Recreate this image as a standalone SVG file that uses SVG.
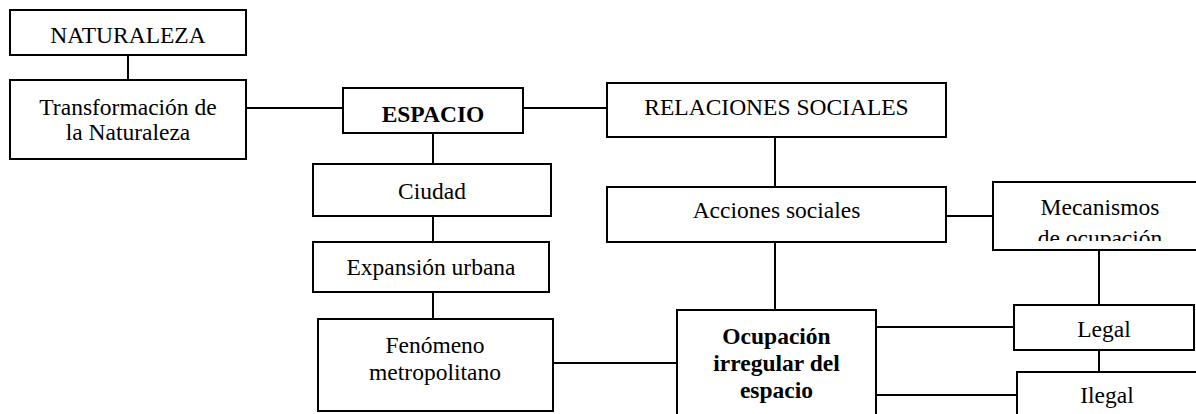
<svg xmlns="http://www.w3.org/2000/svg" width="1196" height="414" viewBox="0 0 1196 414">
<style>
.box{fill:#fff;stroke:#000;stroke-width:2}
.t{font-family:"Liberation Serif","Times New Roman",serif;font-size:23.5px;fill:#000;text-anchor:middle}
.b{font-weight:bold}
.c{stroke:#000;stroke-width:2;fill:none}
</style>
<defs>
<clipPath id="mecClip"><rect x="990" y="180" width="220" height="61"/></clipPath>
</defs>
<rect width="1196" height="414" fill="#fff"/>
<g id="connectors">
<line class="c" x1="128" y1="55" x2="128" y2="80"/>
<line class="c" x1="246" y1="108" x2="343" y2="108"/>
<line class="c" x1="523" y1="108" x2="607" y2="108"/>
<line class="c" x1="433" y1="133" x2="433" y2="164"/>
<line class="c" x1="433" y1="216" x2="433" y2="242"/>
<line class="c" x1="433" y1="292" x2="433" y2="319"/>
<line class="c" x1="775" y1="137" x2="775" y2="187"/>
<line class="c" x1="946" y1="216" x2="993" y2="216"/>
<line class="c" x1="775" y1="242" x2="775" y2="310"/>
<line class="c" x1="553" y1="363" x2="677" y2="363"/>
<line class="c" x1="876" y1="327" x2="1014" y2="327"/>
<line class="c" x1="876" y1="395" x2="1017" y2="395"/>
<line class="c" x1="1099" y1="250" x2="1099" y2="305"/>
<line class="c" x1="1099" y1="350" x2="1099" y2="372"/>
</g>
<g id="naturaleza">
<rect class="box" x="10" y="10" width="236" height="45"/>
<text class="t" x="128" y="43">NATURALEZA</text>
</g>
<g id="transformacion">
<rect class="box" x="10" y="80" width="236" height="79"/>
<text class="t" x="128" y="115">Transformación de</text>
<text class="t" x="128" y="140">la Naturaleza</text>
</g>
<g id="espacio">
<rect class="box" x="343" y="88" width="180" height="45"/>
<text class="t b" x="433" y="122">ESPACIO</text>
</g>
<g id="relaciones">
<rect class="box" x="607" y="83" width="339" height="54"/>
<text class="t" x="776.5" y="115">RELACIONES SOCIALES</text>
</g>
<g id="ciudad">
<rect class="box" x="313" y="164" width="238" height="52"/>
<text class="t" x="432" y="199">Ciudad</text>
</g>
<g id="acciones">
<rect class="box" x="607" y="187" width="339" height="55"/>
<text class="t" x="776.5" y="218">Acciones sociales</text>
</g>
<g id="mecanismos">
<rect class="box" x="993" y="182" width="220" height="68"/>
<text class="t" x="1100" y="215">Mecanismos</text>
<text class="t" x="1100" y="246" clip-path="url(#mecClip)">de ocupación</text>
</g>
<g id="expansion">
<rect class="box" x="313" y="242" width="236" height="50"/>
<text class="t" x="431" y="275">Expansión urbana</text>
</g>
<g id="fenomeno">
<rect class="box" x="318" y="319" width="235" height="92"/>
<text class="t" x="435" y="353">Fenómeno</text>
<text class="t" x="435" y="380">metropolitano</text>
</g>
<g id="ocupacion">
<rect class="box" x="677" y="310" width="199" height="120"/>
<text class="t b" x="776.5" y="344">Ocupación</text>
<text class="t b" x="776.5" y="371">irregular del</text>
<text class="t b" x="776.5" y="398">espacio</text>
</g>
<g id="legal">
<rect class="box" x="1014" y="305" width="180" height="45"/>
<text class="t" x="1104" y="337">Legal</text>
</g>
<g id="ilegal">
<rect class="box" x="1017" y="372" width="182" height="60"/>
<text class="t" x="1107" y="403">Ilegal</text>
</g>
</svg>
